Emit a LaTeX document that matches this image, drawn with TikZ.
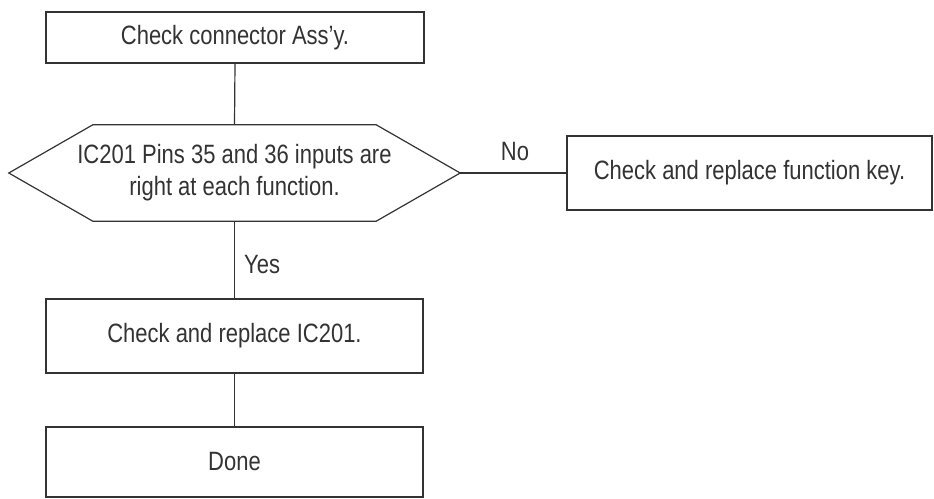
\documentclass[tikz,border=0pt]{standalone}
\usepackage{fontspec}
\setmainfont[FakeStretch=0.83]{Liberation Sans}
\definecolor{ink}{HTML}{333333}
\begin{document}
\begin{tikzpicture}[x=1pt,y=-1pt,
  every node/.style={font=\fontsize{26.5}{32}\selectfont, text=ink},
  box/.style={draw=ink, line width=1.2pt, inner sep=0pt, align=center},
  conn/.style={draw=ink, line width=1.2pt},
  lbl/.style={inner sep=0pt}]
\useasboundingbox (0,0) rectangle (934,498);
\node[box, minimum width=378pt, minimum height=51pt] (b1) at (235,37.5) {Check connector Ass'y.};
\node[inner sep=0pt, minimum width=451pt, minimum height=96pt, align=center] (hex) at (234.5,173) {IC201 Pins 35 and 36 inputs are\\right at each function.};
\draw[conn] (hex.west) -- ([xshift=84pt]hex.north west) -- ([xshift=-84pt]hex.north east) -- (hex.east) -- ([xshift=-84pt]hex.south east) -- ([xshift=84pt]hex.south west) -- cycle;
\node[box, minimum width=365pt, minimum height=74pt] (b2) at (749.5,173) {Check and replace function key.};
\node[box, minimum width=377pt, minimum height=74pt] (b3) at (234.5,336) {Check and replace IC201.};
\node[box, minimum width=377pt, minimum height=70pt] (b4) at (234.5,462) {Done};
\draw[conn] (b1.south) -- (hex.north);
\draw[conn] (hex.south) -- (b3.north);
\draw[conn] (b3.south) -- (b4.north);
\draw[conn] (hex.east) -- (b2.west);
\node[lbl] (no) at (515,152) {No};
\node[lbl, anchor=west] (yes) at (244,265) {Yes};
\end{tikzpicture}
\end{document}
